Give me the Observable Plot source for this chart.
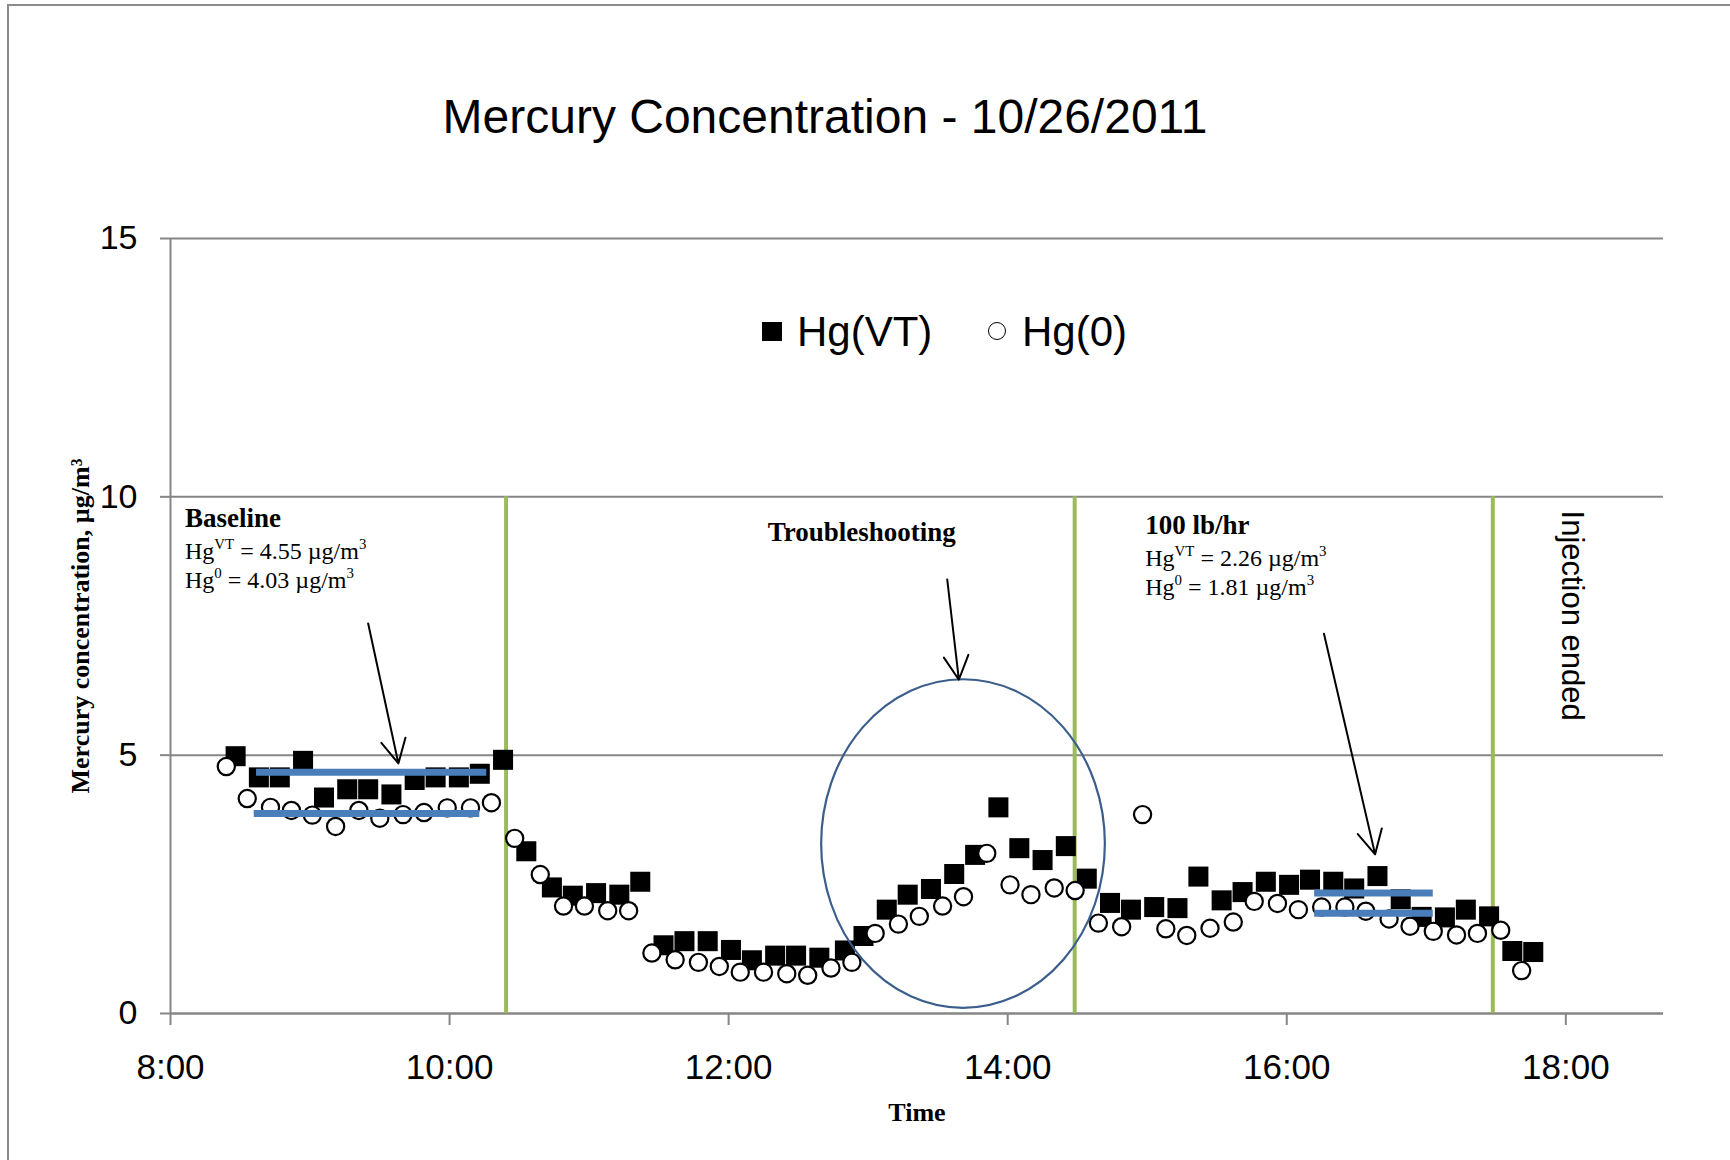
<!DOCTYPE html>
<html>
<head>
<meta charset="utf-8">
<script src="https://cdn.jsdelivr.net/npm/d3@7"></script>
<script src="https://cdn.jsdelivr.net/npm/@observablehq/plot@0.6"></script>
<style>
  html, body { margin: 0; padding: 0; background: #fff; }
  #wrap { position: relative; width: 1730px; height: 1160px; overflow: hidden; background: #fff; }
  #frame { position: absolute; left: 7px; top: 4px; width: 3000px; height: 3000px;
           border-left: 2px solid #8c8c8c; border-top: 2px solid #8c8c8c; }
  #title { position: absolute; left: 0; top: 93px; width: 1650px; text-align: center;
           font-family: "Liberation Sans", Arial, sans-serif; font-size: 48px; line-height: 48px; color: #000; }
  #chart { position: absolute; left: 0; top: 180px; }
  .lg { position: absolute; font-family: "Liberation Sans", Arial, sans-serif; font-size: 42px; line-height: 42px; color: #000; white-space: nowrap; }
  .sq { position: absolute; background: #000; }
  .ci { position: absolute; border: 1.6px solid #000; border-radius: 50%; background: #fff; box-sizing: border-box; }
</style>
</head>
<body>
<div id="wrap">
  <div id="frame"></div>
  <div id="title">Mercury Concentration - 10/26/2011</div>
  <div id="chart"></div>
  <div id="legend"></div>
</div>
<script>
// ---------------- data ----------------
const chartTitle = "Mercury Concentration - 10/26/2011";
const seriesNames = ["Hg(VT)", "Hg(0)"];
const yLabel = "Mercury concentration, µg/m³";
const xLabel = "Time";

const vtTimes = ["8:28","8:38","8:47","8:57","9:06","9:16","9:25","9:35","9:45","9:54","10:04","10:13","10:23","10:33","10:44","10:53","11:03","11:13","11:22","11:32","11:41","11:51","12:01","12:10","12:20","12:29","12:39","12:50","12:58","13:08","13:17","13:27","13:37","13:46","13:56","14:05","14:15","14:25","14:34","14:44","14:53","15:03","15:13","15:22","15:32","15:41","15:51","16:01","16:10","16:20","16:29","16:39","16:49","16:58","17:08","17:17","17:27","17:37","17:46"];
const vtValues = [4.98,4.57,4.57,4.89,4.18,4.34,4.34,4.24,4.52,4.57,4.57,4.64,4.91,3.14,2.44,2.28,2.33,2.30,2.55,1.32,1.40,1.40,1.23,1.03,1.12,1.12,1.08,1.22,1.50,2.01,2.30,2.41,2.70,3.07,3.99,3.20,2.97,3.24,2.61,2.14,2.01,2.06,2.04,2.65,2.19,2.35,2.55,2.49,2.59,2.55,2.42,2.66,2.21,1.87,1.86,2.01,1.88,1.21,1.19];

const h0Times = ["8:24","8:33","8:43","8:52","9:01","9:11","9:21","9:30","9:40","9:49","9:59","10:09","10:18","10:28","10:39","10:49","10:58","11:08","11:17","11:27","11:37","11:47","11:56","12:05","12:15","12:25","12:34","12:44","12:53","13:03","13:13","13:22","13:32","13:41","13:51","14:01","14:10","14:20","14:29","14:39","14:49","14:58","15:08","15:17","15:27","15:37","15:46","15:56","16:05","16:15","16:25","16:34","16:44","16:53","17:03","17:13","17:22","17:32","17:41"];
const h0Values = [4.78,4.16,3.99,3.93,3.84,3.62,3.93,3.78,3.85,3.89,3.98,3.98,4.08,3.39,2.69,2.08,2.08,1.99,1.99,1.17,1.04,0.99,0.91,0.80,0.80,0.77,0.74,0.88,0.99,1.55,1.73,1.88,2.08,2.26,3.10,2.49,2.30,2.43,2.38,1.75,1.68,3.85,1.64,1.51,1.65,1.77,2.17,2.13,2.01,2.06,2.06,1.98,1.83,1.69,1.59,1.52,1.55,1.61,0.83];

const xTickLabels = ["8:00","10:00","12:00","14:00","16:00","18:00"];
const xDomain = ["8:00","18:42"];
const yTicks = [0, 5, 10, 15];
const yGrid = [5, 10, 15];

// phase boundaries (green lines, up to 10 µg/m3)
const phaseTimes = ["10:24:18","14:28:48","17:28:36"];
const phaseTop = 10;

// period average lines
const avgStart = ["8:37","8:36","16:12","16:12"];
const avgEnd   = ["10:16","10:13","17:03","17:03"];
const avgValue = [4.67, 3.87, 2.33, 1.94];

// arrows
const arrowFromT = ["9:25","13:34","16:16"];
const arrowFromV = [7.55, 8.40, 7.35];
const arrowToT   = ["9:38","13:39","16:38"];
const arrowToV   = [4.84, 6.46, 3.08];

// troubleshooting ellipse
const ellipseCenterTime = "13:41";
const ellipseCenterValue = 3.28;
const ellipseHalfWidthMin = 61;
const ellipseHalfHeight = 3.18;

// annotation blocks
const noteTimes = ["8:06:27","14:59:21"];
const noteValues = [9.41, 9.28];
const noteHeads = ["Baseline","100 lb/hr"];
const noteVT = ["4.55","2.26"];
const noteH0 = ["4.03","1.81"];
const troubleTime = "12:57:30", troubleValue = 9.14, troubleText = "Troubleshooting";
const endTime = "18:02:45", endValue = 7.70, endText = "Injection ended";

// ---------------- helpers ----------------
const T = s => { const [h, m, sec = 0] = s.split(":").map(Number); return new Date(2011, 9, 26, h, m, sec); };
const vt = vtTimes.map((t, i) => ({time: T(t), value: vtValues[i]}));
const h0 = h0Times.map((t, i) => ({time: T(t), value: h0Values[i]}));
const avgs = avgValue.map((v, i) => ({x1: T(avgStart[i]), x2: T(avgEnd[i]), y: v}));
const arrows = arrowFromT.map((t, i) => ({x1: T(t), y1: arrowFromV[i], x2: T(arrowToT[i]), y2: arrowToV[i]}));

const GRAY = "#868686";
const SERIF = "'Liberation Serif', 'Times New Roman', serif";
const SANS = "'Liberation Sans', Arial, sans-serif";

function rich(g, x, y, parts, size, weight) {
  const t = g.append("text").attr("x", x).attr("y", y)
    .attr("text-anchor", "start")
    .attr("font-family", SERIF).attr("font-size", size)
    .attr("font-weight", weight || "normal").attr("fill", "#000")
    .style("white-space", "pre");
  let up = false;
  for (const [s, sup] of parts) {
    const sp = t.append("tspan").text(s);
    if (sup) { sp.attr("font-size", size * 0.62); if (!up) { sp.attr("dy", -0.4 * size); up = true; } }
    else if (up) { sp.attr("dy", 0.4 * size); up = false; }
  }
}

function ellipseMark(index, scales) {
  const c = T(ellipseCenterTime);
  const cx = scales.x(c), cy = scales.y(ellipseCenterValue);
  const rx = scales.x(new Date(+c + ellipseHalfWidthMin * 60000)) - cx;
  const ry = cy - scales.y(ellipseCenterValue + ellipseHalfHeight);
  return d3.create("svg:ellipse").attr("cx", cx).attr("cy", cy).attr("rx", rx).attr("ry", ry)
    .attr("fill", "none").attr("stroke", "#3B5E8C").attr("stroke-width", 2.2).node();
}

function notesMark(index, scales) {
  const g = d3.create("svg:g").attr("text-anchor", "start");
  noteTimes.forEach((t, i) => {
    const x = scales.x(T(t)), y = scales.y(noteValues[i]);
    rich(g, x, y, [[noteHeads[i], false]], 27, "bold");
    rich(g, x, y + 32, [["Hg", false], ["VT", true], [" = " + noteVT[i] + " µg/m", false], ["3", true]], 24);
    rich(g, x, y + 61, [["Hg", false], ["0", true], [" = " + noteH0[i] + " µg/m", false], ["3", true]], 24);
  });
  g.append("text").attr("x", scales.x(T(troubleTime))).attr("y", scales.y(troubleValue))
    .attr("text-anchor", "middle").attr("font-family", SERIF).attr("font-size", 27)
    .attr("font-weight", "bold").attr("fill", "#000").text(troubleText);
  return g.node();
}

// ---------------- plot ----------------
const chart = Plot.plot({
  width: 1730,
  height: 980,
  marginTop: 58,
  marginBottom: 147,
  marginLeft: 170,
  marginRight: 67,
  style: {fontFamily: SANS, color: "#000", background: "transparent", overflow: "visible"},
  x: {type: "time", domain: xDomain.map(T)},
  y: {domain: [0, 15]},
  marks: [
    Plot.gridY(yGrid, {stroke: GRAY, strokeOpacity: 1, strokeWidth: 2}),
    Plot.ruleX([T(xDomain[0])], {y1: 0, y2: 15, stroke: GRAY, strokeWidth: 2}),
    Plot.ruleY([0], {stroke: GRAY, strokeWidth: 2.5}),
    Plot.axisY({ticks: yTicks, tickSize: 10, tickPadding: 23, fontSize: 34, label: null,
                stroke: GRAY, strokeWidth: 2, fontFamily: SANS}),
    Plot.axisX({ticks: xTickLabels.map(T), tickFormat: d3.timeFormat("%-H:%M"), tickSize: 12, tickPadding: 29,
                fontSize: 35, label: null, stroke: GRAY, strokeWidth: 2, fontFamily: SANS}),
    Plot.ruleX(phaseTimes.map(T), {y1: 0, y2: phaseTop, stroke: "#9BBB59", strokeWidth: 4}),
    Plot.dot(vt, {x: "time", y: "value", symbol: "square", r: 11.3, fill: "#000", stroke: "none"}),
    Plot.dot(h0, {x: "time", y: "value", r: 8.6, fill: "#fff", stroke: "#000", strokeWidth: 2.2}),
    Plot.ruleY(avgs, {x1: "x1", x2: "x2", y: "y", stroke: "#4A7EBB", strokeWidth: 7}),
    ellipseMark,
    Plot.arrow(arrows, {x1: "x1", y1: "y1", x2: "x2", y2: "y2", stroke: "#000", strokeWidth: 2,
                        headLength: 20, headAngle: 55, insetStart: 0, insetEnd: 0}),
    notesMark,
    Plot.text([endText], {x: () => T(endTime), y: () => endValue, rotate: 90, fontSize: 31,
                          fontFamily: SANS, textAnchor: "middle", lineAnchor: "middle", fill: "#000"}),
    Plot.text([yLabel], {frameAnchor: "left", dx: -90, rotate: -90, fontSize: 26, fontWeight: "bold",
                         fontFamily: SERIF, textAnchor: "middle", lineAnchor: "middle", fill: "#000"}),
    Plot.text([xLabel], {frameAnchor: "bottom", dy: 99, fontSize: 26, fontWeight: "bold",
                         fontFamily: SERIF, textAnchor: "middle", lineAnchor: "middle", fill: "#000"})
  ]
});
document.getElementById("chart").appendChild(chart);
document.getElementById("title").textContent = chartTitle;

// legend (inside the plot area, as in the original)
const legend = document.getElementById("legend");
legend.innerHTML =
  `<div class="sq" style="left:762px;top:322px;width:20px;height:19px"></div>` +
  `<div class="lg" style="left:797px;top:311px">${seriesNames[0]}</div>` +
  `<div class="ci" style="left:988px;top:322px;width:18px;height:18px"></div>` +
  `<div class="lg" style="left:1022px;top:311px">${seriesNames[1]}</div>`;
</script>
</body>
</html>
